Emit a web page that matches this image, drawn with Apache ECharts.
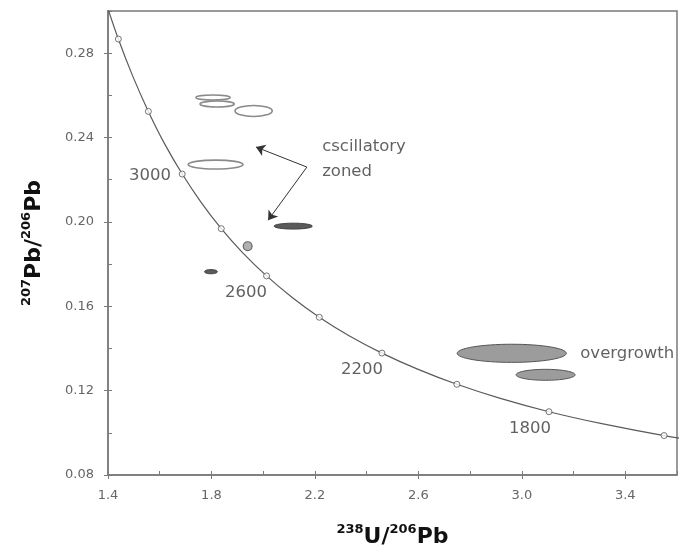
<!DOCTYPE html>
<html>
<head>
<meta charset="utf-8">
<script src="https://cdn.jsdelivr.net/npm/echarts@6/dist/echarts.min.js"></script>
<style>
html, body {margin: 0; padding: 0; background: #fff;}
#main {width: 688px; height: 548px;}
</style>
</head>
<body>
<div id="main"></div>
<script>
// concordia (Tera-Wasserburg), ages in Ma
var concAges = [3500, 3400, 3300, 3200, 3100, 3000, 2900, 2800, 2700, 2600, 2500, 2400, 2300, 2200, 2100, 2000, 1900, 1800, 1700, 1600, 1500];
var concU = [1.387, 1.440, 1.496, 1.556, 1.619, 1.687, 1.760, 1.838, 1.922, 2.013, 2.111, 2.217, 2.332, 2.459, 2.597, 2.749, 2.917, 3.105, 3.314, 3.550, 3.817];
var concPb = [0.3058, 0.2867, 0.2690, 0.2524, 0.2370, 0.2227, 0.2093, 0.1968, 0.1852, 0.1744, 0.1643, 0.1548, 0.1460, 0.1378, 0.1302, 0.1230, 0.1163, 0.1100, 0.1042, 0.0987, 0.0936];
var markAges = [3400, 3200, 3000, 2800, 2600, 2400, 2200, 2000, 1800, 1600];

var ageLabels = ['3000', '2600', '2200', '1800'];
var ageLabelU = [1.562, 1.934, 2.382, 3.032];
var ageLabelPb = [0.2217, 0.1662, 0.1301, 0.1021];

// analyses: centre and half axes of the error ellipses
var spotU = [1.806, 1.822, 1.963, 1.816, 2.116, 1.940, 1.798, 2.961, 3.092];
var spotPb = [0.2590, 0.2559, 0.2526, 0.2272, 0.1980, 0.1885, 0.1764, 0.1377, 0.1275];
var spotErrU = [0.066, 0.066, 0.072, 0.106, 0.074, 0.017, 0.025, 0.211, 0.114];
var spotErrPb = [0.0012, 0.0014, 0.0026, 0.0021, 0.0014, 0.0021, 0.0010, 0.0043, 0.0026];
var spotGroup = ['osc', 'osc', 'osc', 'osc', 'dark', 'mid', 'dark', 'over', 'over'];

var noteText = ['cscillatory', 'zoned', 'overgrowth'];
var noteU = [2.228, 2.228, 3.226];
var notePb = [0.2355, 0.2236, 0.1377];
// arrow: from the bend to the two tips
var arrowFrom = [2.169, 0.2260];
var arrowTo = [[1.972, 0.2355], [2.019, 0.2008]];

var xTicks = [1.4, 1.8, 2.2, 2.6, 3.0, 3.4];
var yTicks = [0.08, 0.12, 0.16, 0.20, 0.24, 0.28];

var spotStyle = {
    osc: {fill: '#ffffff', stroke: '#8a8a8a', lw: 1.6},
    dark: {fill: '#5a5a5a', stroke: '#444444', lw: 1},
    mid: {fill: '#b0b0b0', stroke: '#666666', lw: 1.2},
    over: {fill: '#9c9c9c', stroke: '#555555', lw: 1}
};

var axisColor = '#7a7a7a';
var font = 'DejaVu Sans';

var concData = concU.map(function (u, i) { return [u, concPb[i]]; });
var markData = [];
concAges.forEach(function (a, i) {
    if (markAges.indexOf(a) >= 0) markData.push([concU[i], concPb[i]]);
});
var spotData = spotU.map(function (u, i) { return [u, spotPb[i], spotErrU[i], spotErrPb[i]]; });
var ageData = ageLabels.map(function (t, i) { return {value: [ageLabelU[i], ageLabelPb[i]], name: t}; });
var noteData = noteText.map(function (t, i) { return {value: [noteU[i], notePb[i]], name: t}; });

var titleRich = {
    b: {fontFamily: font, fontSize: 22, fontWeight: 'bold', color: '#111', lineHeight: 28},
    sup: {fontFamily: font, fontSize: 13, fontWeight: 'bold', color: '#111', lineHeight: 8, verticalAlign: 'top'}
};

function renderSpot(params, api) {
    var c = api.coord([api.value(0), api.value(1)]);
    var s = api.size([api.value(2), api.value(3)]);
    var st = spotStyle[spotGroup[params.dataIndex]];
    return {
        type: 'ellipse',
        shape: {cx: c[0], cy: c[1], rx: s[0], ry: s[1]},
        style: {fill: st.fill, stroke: st.stroke, lineWidth: st.lw}
    };
}

var chart = echarts.init(document.getElementById('main'));
var option = {
    animation: false,
    backgroundColor: '#fff',
    grid: {left: 108, right: 11, top: 11, bottom: 73, outerBoundsMode: 'none', containLabel: false,
        show: true, borderColor: axisColor, borderWidth: 1.5},
    xAxis: [
        {
            type: 'value', min: 1.4, max: 3.6, interval: 0.4, position: 'bottom',
            axisLine: {show: true, onZero: false, lineStyle: {color: axisColor, width: 1.5}},
            axisTick: {show: true, customValues: xTicks, length: 4, lineStyle: {color: axisColor}},
            axisLabel: {customValues: xTicks, margin: 14, color: '#666', fontSize: 13, fontFamily: font,
                formatter: function (v) { return v.toFixed(1); }},
            splitLine: {show: false},
            name: '{sup|238}{b|U/}{sup|206}{b|Pb}',
            nameLocation: 'middle', nameGap: 48,
            nameTextStyle: {rich: titleRich}
        },
        {
            type: 'value', min: 1.4, max: 3.6, interval: 0.2, position: 'bottom',
            axisLine: {show: false, onZero: false},
            axisTick: {show: true, inside: true, length: 4, lineStyle: {color: axisColor}},
            axisLabel: {show: false},
            splitLine: {show: false}
        }
    ],
    yAxis: [
        {
            type: 'value', min: 0.08, max: 0.30, interval: 0.04, position: 'left',
            axisLine: {show: true, onZero: false, lineStyle: {color: axisColor, width: 1.5}},
            axisTick: {show: true, customValues: yTicks, length: 4, lineStyle: {color: axisColor}},
            axisLabel: {customValues: yTicks, margin: 14, color: '#666', fontSize: 13, fontFamily: font,
                formatter: function (v) { return v.toFixed(2); }},
            splitLine: {show: false},
            name: '{sup|207}{b|Pb/}{sup|206}{b|Pb}',
            nameLocation: 'middle', nameGap: 60, nameRotate: 90,
            nameTextStyle: {rich: titleRich}
        },
        {
            type: 'value', min: 0.08, max: 0.30, interval: 0.02, position: 'left',
            axisLine: {show: false, onZero: false},
            axisTick: {show: true, inside: true, length: 4, lineStyle: {color: axisColor}},
            axisLabel: {show: false},
            splitLine: {show: false}
        }
    ],
    series: [
        {
            name: 'concordia', type: 'line', data: concData,
            smooth: 0.35, showSymbol: false, symbol: 'none',
            lineStyle: {color: '#5a5a5a', width: 1.2}, clip: true, z: 2
        },
        {
            name: 'age marks', type: 'scatter', data: markData,
            symbol: 'circle', symbolSize: 6,
            itemStyle: {color: '#fff', borderColor: '#555', borderWidth: 1}, z: 3
        },
        {
            name: 'spots', type: 'custom', data: spotData, renderItem: renderSpot,
            encode: {x: 0, y: 1}, clip: true, z: 4
        },
        {
            name: 'ages', type: 'scatter', data: ageData, symbolSize: 0, silent: true,
            label: {show: true, position: 'inside', formatter: '{b}', color: '#3a3a3a',
                fontFamily: font, fontSize: 16.5}, z: 5
        },
        {
            name: 'notes', type: 'scatter', data: noteData, symbolSize: 0, silent: true,
            label: {show: true, position: 'right', distance: 0, formatter: '{b}', color: '#3a3a3a',
                fontFamily: font, fontSize: 16.5},
            markLine: {
                silent: true, symbol: ['none', 'arrow'], symbolSize: 9,
                lineStyle: {color: '#333', width: 1, type: 'solid'},
                itemStyle: {color: '#222'},
                label: {show: false},
                data: arrowTo.map(function (t) { return [{coord: arrowFrom}, {coord: t}]; })
            },
            z: 5
        }
    ]
};
chart.setOption(option);
</script>
</body>
</html>
